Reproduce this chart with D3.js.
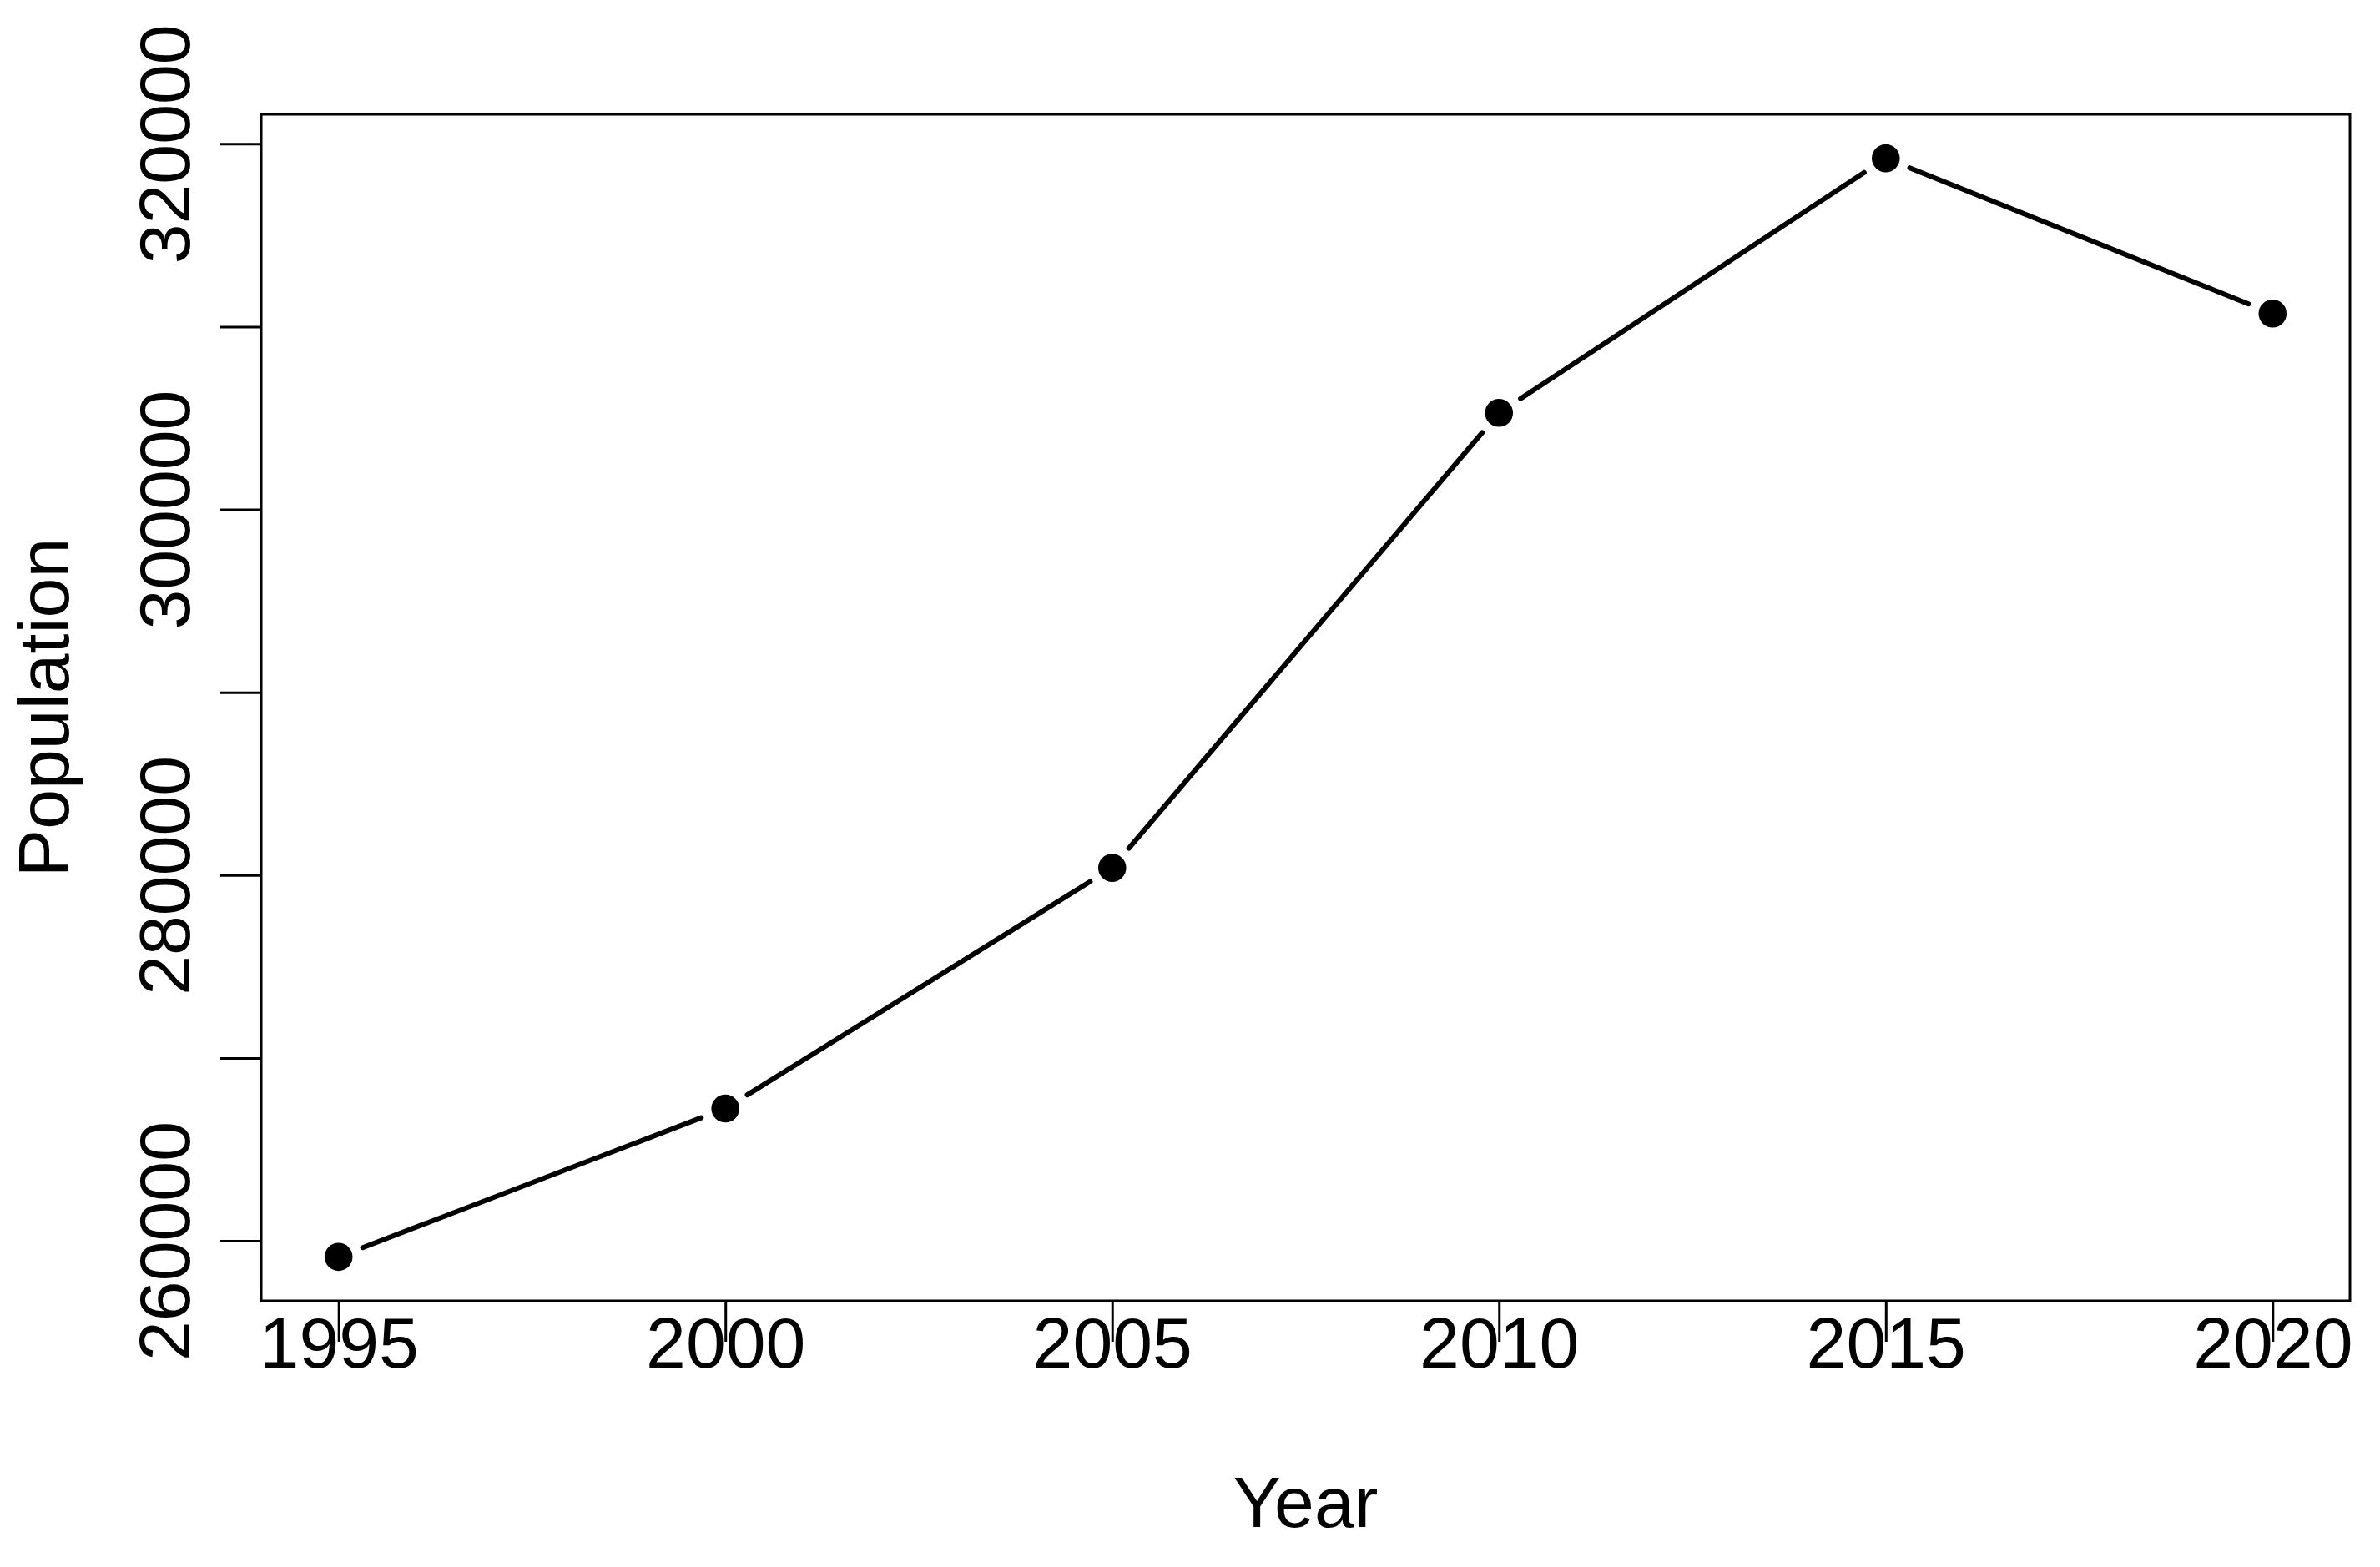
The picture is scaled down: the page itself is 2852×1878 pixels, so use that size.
<!DOCTYPE html>
<html>
<head>
<meta charset="utf-8">
<script src="https://cdn.jsdelivr.net/npm/d3@7"></script>
<style>
  html, body { margin: 0; padding: 0; background: #fff; }
  svg { display: block; }
</style>
</head>
<body>
<div class="lineChart"></div>
<script>
// data
const years = [1995, 2000, 2005, 2010, 2015, 2020];
const population = [259119, 267233, 280397, 305283, 319210, 310717];
const yTicks = [260000, 270000, 280000, 290000, 300000, 310000, 320000];
const yLabels = [260000, 280000, 300000, 320000];

const width = 2852;
const height = 1878;
const margin = { top: 137, right: 36, bottom: 319, left: 313 };
const font = "'Liberation Sans', Arial, Helvetica, sans-serif";
const fontSize = 86;

// R style 4% padding on both scales
const pad = (lo, hi) => [lo - (hi - lo) * 0.04, hi + (hi - lo) * 0.04];

const x = d3
  .scaleLinear()
  .domain(pad(d3.min(years), d3.max(years)))
  .range([margin.left, width - margin.right]);

const y = d3
  .scaleLinear()
  .domain(pad(d3.min(population), d3.max(population)))
  .range([height - margin.bottom, margin.top]);

const data = years.map((yr, i) => ({ x: yr, y: population[i] }));

const svg = d3
  .select(".lineChart")
  .append("svg")
  .attr("width", width)
  .attr("height", height)
  .attr("viewBox", [0, 0, width, height])
  .style("font-family", font);

// line segments with a gap round each point (type = "b")
const gap = 31;
const segs = d3.pairs(data).map(([a, b]) => {
  const x1 = x(a.x), y1 = y(a.y), x2 = x(b.x), y2 = y(b.y);
  const len = Math.hypot(x2 - x1, y2 - y1);
  const ux = (x2 - x1) / len, uy = (y2 - y1) / len;
  return [x1 + ux * gap, y1 + uy * gap, x2 - ux * gap, y2 - uy * gap];
});

svg
  .append("g")
  .attr("stroke", "#000")
  .attr("stroke-width", 6)
  .attr("stroke-linecap", "round")
  .selectAll()
  .data(segs)
  .join("line")
  .attr("x1", (d) => d[0])
  .attr("y1", (d) => d[1])
  .attr("x2", (d) => d[2])
  .attr("y2", (d) => d[3]);

svg
  .append("g")
  .selectAll()
  .data(data)
  .join("circle")
  .attr("cx", (d) => x(d.x))
  .attr("cy", (d) => y(d.y))
  .attr("r", 16.8)
  .attr("fill", "#000");

// x axis
const xAxis = svg
  .append("g")
  .attr("transform", `translate(0,${height - margin.bottom})`)
  .call(d3.axisBottom(x).tickValues(years).tickSize(49).tickSizeOuter(0).tickFormat(d3.format("d")));
xAxis.select(".domain").remove();
xAxis.selectAll("line").attr("stroke", "#000").attr("stroke-width", 3);
xAxis
  .selectAll("text")
  .attr("y", 80)
  .attr("dy", 0)
  .attr("fill", "#000")
  .style("font-size", fontSize + "px")
  .style("font-family", font);

// y axis
const yAxis = svg
  .append("g")
  .attr("transform", `translate(${margin.left},0)`)
  .call(
    d3
      .axisLeft(y)
      .tickValues(yTicks)
      .tickSize(49)
      .tickSizeOuter(0)
      .tickFormat((d) => (yLabels.includes(d) ? d3.format("d")(d) : ""))
  );
yAxis.select(".domain").remove();
yAxis.selectAll("line").attr("stroke", "#000").attr("stroke-width", 3);
yAxis
  .selectAll("text")
  .attr("x", 0)
  .attr("dy", 0)
  .attr("transform", "translate(-86,0) rotate(-90)")
  .attr("text-anchor", "middle")
  .attr("fill", "#000")
  .style("font-size", fontSize + "px")
  .style("font-family", font);

// plot box
svg
  .append("rect")
  .attr("x", margin.left)
  .attr("y", margin.top)
  .attr("width", width - margin.left - margin.right)
  .attr("height", height - margin.top - margin.bottom)
  .attr("fill", "none")
  .attr("stroke", "#000")
  .attr("stroke-width", 3);

// axis titles
svg
  .append("text")
  .attr("x", (margin.left + width - margin.right) / 2)
  .attr("y", 1830)
  .attr("text-anchor", "middle")
  .style("font-size", fontSize + "px")
  .text("Year");

svg
  .append("text")
  .attr("transform", `translate(82,${(margin.top + height - margin.bottom) / 2}) rotate(-90)`)
  .attr("text-anchor", "middle")
  .style("font-size", fontSize + "px")
  .text("Population");
</script>
</body>
</html>
